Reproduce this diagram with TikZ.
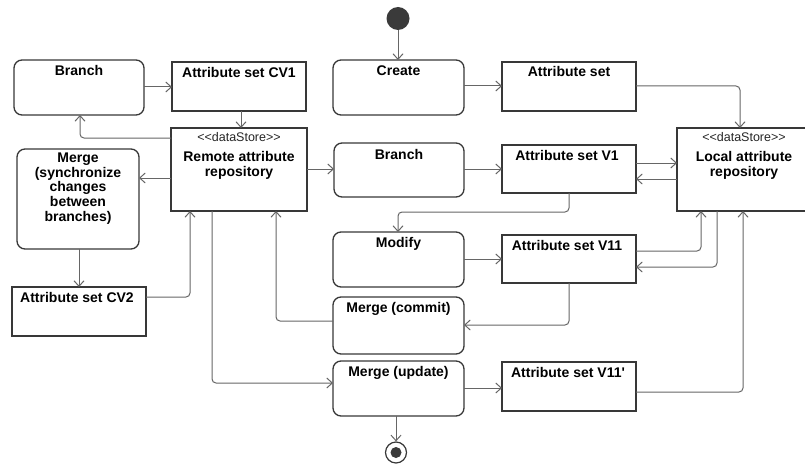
\documentclass[tikz,border=0pt]{standalone}
\usepackage{fontspec}
\setmainfont{Liberation Sans}[Ligatures=TeXOff]
\usetikzlibrary{arrows.meta,calc}
\definecolor{bc}{HTML}{383838}
\definecolor{lc}{HTML}{666666}
\definecolor{dotc}{HTML}{3A3A3A}
\begin{document}
\begin{tikzpicture}[x=1pt,y=-1pt,
  box/.style={draw=bc, line width=1.3pt, fill=white, anchor=north west, inner sep=0, outer sep=0},
  actbox/.style={box, rounded corners=8pt},
  objbox/.style={box},
  title/.style={font=\bfseries\fontsize{14}{14.6}\selectfont, anchor=base, inner sep=0, align=center},
  stereo/.style={font=\fontsize{12.5}{14}\selectfont, text=black!85, anchor=base, inner sep=0},
  arr/.style={draw=lc, line width=1pt, rounded corners=4pt, -{Straight Barb[length=5.5pt,width=10pt,line width=1pt]}},
]
\useasboundingbox (0,0) rectangle (805,468);

% ---- boxes ----
\node[actbox, minimum width=130, minimum height=55] (brL) at (14,60) {};
\node[objbox, minimum width=134, minimum height=49] (cv1) at (172,62) {};
\node[objbox, minimum width=136, minimum height=83] (remote) at (171,128) {};
\node[actbox, minimum width=122, minimum height=100] (msync) at (17,149) {};
\node[objbox, minimum width=134, minimum height=49] (cv2) at (12,287) {};

\node[actbox, minimum width=131, minimum height=55] (create) at (333,60) {};
\node[actbox, minimum width=130, minimum height=54] (brM) at (334,143) {};
\node[actbox, minimum width=131, minimum height=55] (modify) at (333,232) {};
\node[actbox, minimum width=131, minimum height=57] (mcommit) at (333,297) {};
\node[actbox, minimum width=131, minimum height=55] (mupdate) at (333,361) {};

\node[objbox, minimum width=134, minimum height=49] (as) at (502,62) {};
\node[objbox, minimum width=134, minimum height=48] (v1) at (502,145) {};
\node[objbox, minimum width=134, minimum height=48] (v11) at (502,235) {};
\node[objbox, minimum width=134, minimum height=49] (v11p) at (502,362) {};
\node[objbox, minimum width=134, minimum height=83] (local) at (677,128) {};

\node[circle, fill=dotc, minimum size=23pt, inner sep=0] (init) at (398,18.5) {};
\node[circle, draw=bc, line width=1.2pt, fill=white, minimum size=21pt, inner sep=0] (final) at (396,452.5) {};
\node[circle, fill=dotc, minimum size=11pt, inner sep=0] (finaldot) at (final.center) {};

% ---- texts ----
\node[title] (brLt) at ([yshift=-16pt]brL.north) {Branch};
\node[title] (cv1t) at ([yshift=-16pt]cv1.north) {Attribute set CV1};
\node[stereo] (remotes) at ([yshift=-14pt]remote.north) {<<dataStore>>};
\node[title] (remotet) at ([yshift=-48pt]remote.north) {Remote attribute\\repository};
\node[title] (msynct) at ([yshift=-72pt]msync.north) {Merge\\(synchronize\\changes\\between\\branches)};
\node[title] (cv2t) at ([yshift=-15pt,xshift=-2pt]cv2.north) {Attribute set CV2};
\node[title] (createt) at ([yshift=-16pt]create.north) {Create};
\node[title] (brMt) at ([yshift=-16pt]brM.north) {Branch};
\node[title] (modifyt) at ([yshift=-15pt]modify.north) {Modify};
\node[title] (mcommitt) at ([yshift=-15pt]mcommit.north) {Merge (commit)};
\node[title] (mupdatet) at ([yshift=-15pt]mupdate.north) {Merge (update)};
\node[title] (ast) at ([yshift=-15pt]as.north) {Attribute set};
\node[title] (v1t) at ([yshift=-15pt,xshift=-2pt]v1.north) {Attribute set V1};
\node[title] (v11t) at ([yshift=-15pt,xshift=-2pt]v11.north) {Attribute set V11};
\node[title] (v11pt) at ([yshift=-15pt,xshift=-1pt]v11p.north) {Attribute set V11'};
\node[stereo] (locals) at ([yshift=-14pt]local.north) {<<dataStore>>};
\node[title] (localt) at ([yshift=-48pt]local.north) {Local attribute\\repository};

% ---- connectors ----
\draw[arr] (init) -- (create.north -| init);
\draw[arr] (create.east |- 0,86) -- (as.west |- 0,86);
\draw[arr] (as.east |- 0,86) -| (local.north -| 740,0);
\draw[arr] (brL.east |- 0,87) -- (cv1.west |- 0,87);
\draw[arr] (cv1.south -| 241,0) -- (remote.north -| 241,0);
\draw[arr] (remote.west |- 0,138) -| (brL.south -| 80,0);
\draw[arr] (remote.west |- 0,178) -- (msync.east |- 0,178);
\draw[arr] (remote.east |- 0,169) -- (brM.west |- 0,169);
\draw[arr] (brM.east |- 0,169) -- (v1.west |- 0,169);
\draw[arr] (v1.east |- 0,163) -- (local.west |- 0,163);
\draw[arr] (local.west |- 0,179) -- (v1.east |- 0,179);
\draw[arr] (v1.south -| 569,0) -- (569,212) -- (398,212) -- (modify.north -| 398,0);
\draw[arr] (modify.east |- 0,259) -- (v11.west |- 0,259);
\draw[arr] (v11.east |- 0,251) -| (local.south -| 701,0);
\draw[arr] (local.south -| 717,0) |- (v11.east |- 0,267);
\draw[arr] (v11.south -| 569,0) |- (mcommit.east |- 0,325);
\draw[arr] (mcommit.west |- 0,321) -| (remote.south -| 276,0);
\draw[arr] (remote.south -| 212,0) |- (mupdate.west |- 0,383);
\draw[arr] (mupdate.east |- 0,388) -- (v11p.west |- 0,388);
\draw[arr] (v11p.east |- 0,392) -| (local.south -| 743,0);
\draw[arr] (msync.south -| 79,0) -- (cv2.north -| 79,0);
\draw[arr] (cv2.east |- 0,297) -| (remote.south -| 190,0);
\draw[arr] (mupdate.south -| final.north) -- (final.north);
\end{tikzpicture}
\end{document}
